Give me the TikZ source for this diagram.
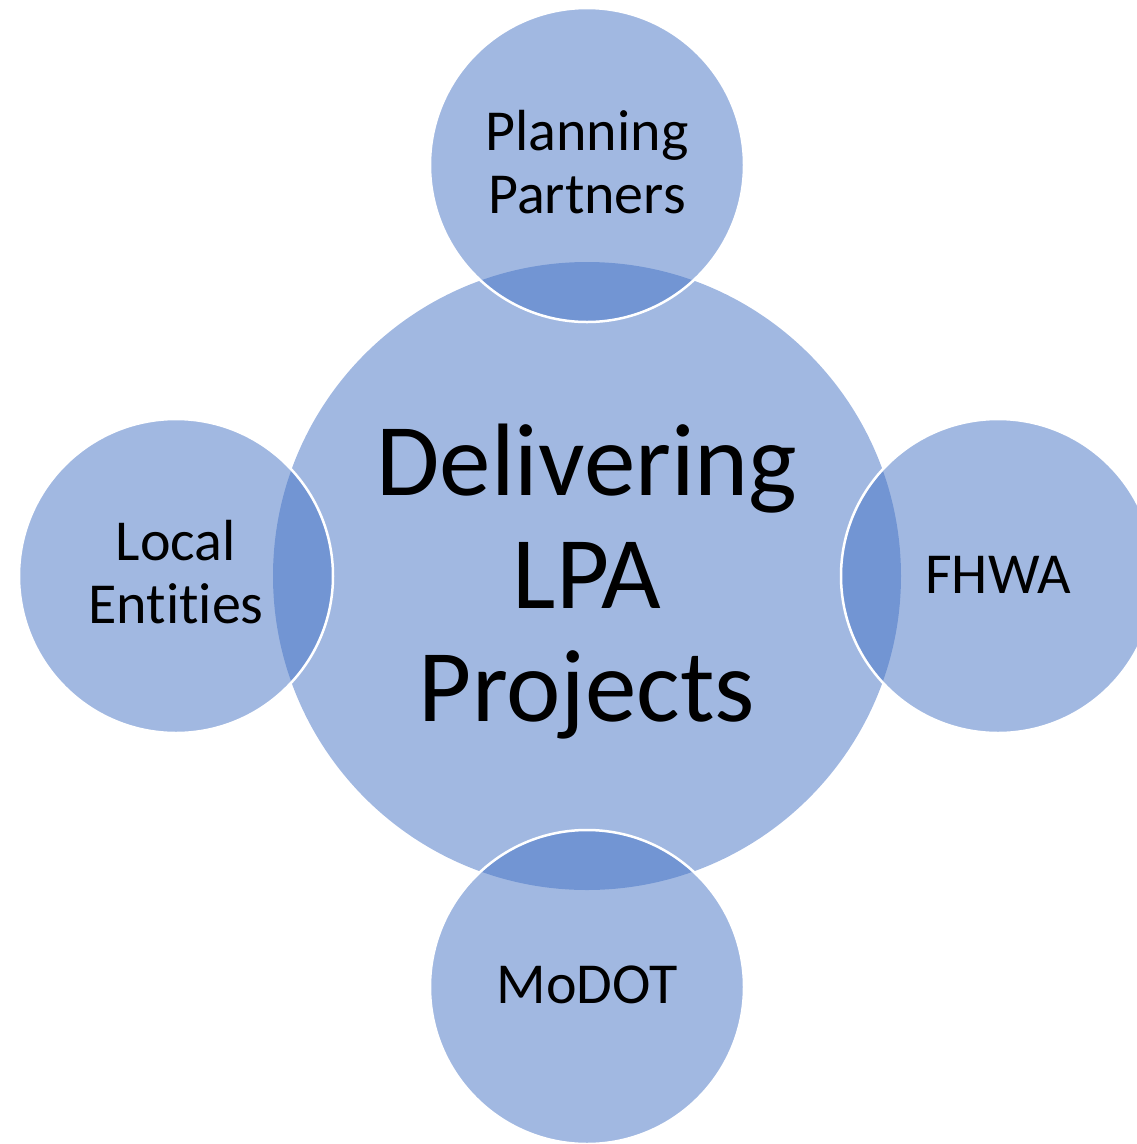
\documentclass[tikz,border=0pt]{standalone}
\usepackage{fontspec}
\setmainfont{Carlito}[Ligatures={NoCommon,NoContextual}]
\definecolor{blob}{RGB}{68,114,196}
\begin{document}
\begin{tikzpicture}[x=1pt,y=-1pt,
  bubble/.style={circle,inner sep=0pt,fill=blob,fill opacity=0.5,text opacity=1},
  small/.style={bubble,minimum size=314pt,draw=white,line width=2.5pt},
  big/.style={bubble,minimum size=628pt,draw=none},
  smalltext/.style={align=center,font=\fontsize{58}{63}\selectfont,inner sep=0pt},
  bigtext/.style={align=center,font=\fontsize{103}{113}\selectfont,inner sep=0pt}]
\useasboundingbox (0,0) rectangle (1137,1144);
\clip (0,0) rectangle (1137,1144);
\node[big] (center) at (587,576) {};
\node[small] (top) at (587,165) {};
\node[small] (left) at (176,576) {};
\node[small] (right) at (998,576) {};
\node[small] (bottom) at (587,987) {};
\node[bigtext] (ctext) at (587,581.5) {Delivering\\LPA\\Projects};
\node[smalltext] (ttext) at (587,162) {Planning\\Partners};
\node[smalltext] (ltext) at (176,572) {Local\\Entities};
\node[smalltext] (rtext) at (998,574.5) {FHWA};
\node[smalltext] (btext) at (587,985) {MoDOT};
\end{tikzpicture}
\end{document}
